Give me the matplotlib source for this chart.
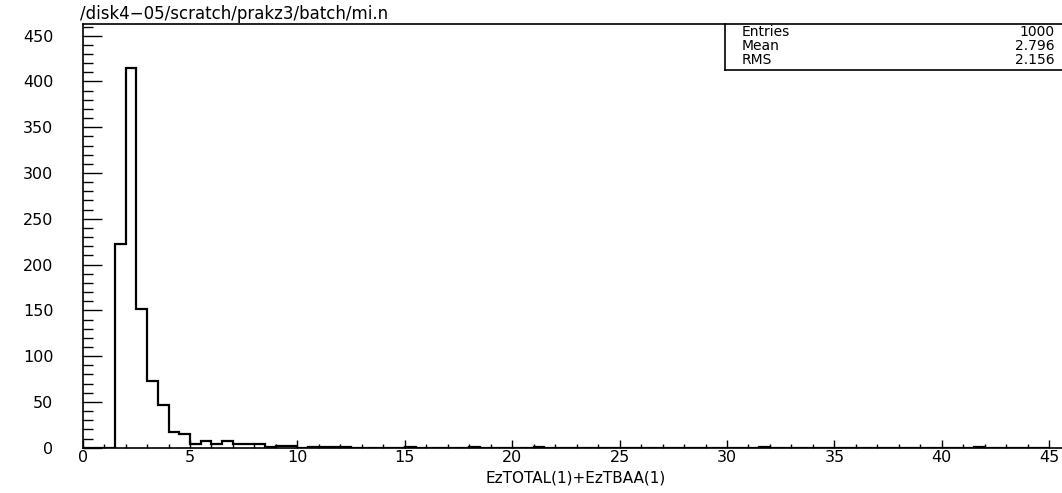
import matplotlib.pyplot as plt
import numpy as np
from matplotlib.ticker import MultipleLocator

# histogram of EzTOTAL(1)+EzTBAA(1), 90 bins of 0.5 from 0 to 45
edges = np.arange(0, 45.5, 0.5)
counts = np.zeros(90)
# (bin low edge, entries) for the non-empty bins
filled = [(1.5, 223), (2.0, 415), (2.5, 152), (3.0, 73), (3.5, 47),
          (4.0, 17), (4.5, 15), (5.0, 4), (5.5, 7), (6.0, 4), (6.5, 7),
          (7.0, 4), (7.5, 4), (8.0, 4), (8.5, 1), (9.0, 2), (9.5, 2),
          (10.5, 1), (11.0, 1), (11.5, 1), (12.0, 1), (15.0, 1),
          (18.0, 1), (21.0, 1), (31.5, 1), (41.5, 1)]
for lo, n in filled:
    counts[int(round(lo / 0.5))] = n

stat_names = ['Entries', 'Mean', 'RMS']
stat_values = ['1000', '2.796', '2.156']
title = '/disk4\u221205/scratch/prakz3/batch/mi.n'
xlabel = 'EzTOTAL(1)+EzTBAA(1)'

W, H = 1062, 493
fig = plt.figure(figsize=(W / 100, H / 100), dpi=100)
left, right, top, bottom = 82.6, 1062, 24, 447.7
ax = fig.add_axes([left / W, (H - bottom) / H, (right - left) / W, (bottom - top) / H])

ax.stairs(counts, edges, color='black', lw=1.6, baseline=0)

ax.set_xlim(0, (right - left) / 21.48)
ax.set_ylim(0, (bottom - top) / 0.9156)
ax.spines['right'].set_visible(False)
for s in ['left', 'bottom', 'top']:
    ax.spines[s].set_linewidth(1.2)

ax.xaxis.set_major_locator(MultipleLocator(5))
ax.xaxis.set_minor_locator(MultipleLocator(1))
ax.yaxis.set_major_locator(MultipleLocator(50))
ax.yaxis.set_minor_locator(MultipleLocator(10))
ax.set_xticks(np.arange(0, 46, 5))
ax.tick_params(axis='x', which='major', direction='in', length=6, width=1, labelsize=11.5, pad=2)
ax.tick_params(axis='x', which='minor', direction='in', length=3, width=1)
ax.tick_params(axis='y', which='major', direction='in', length=14, width=1, labelsize=11.5, pad=21)
ax.tick_params(axis='y', which='minor', direction='in', length=7, width=1)

# axis title under the tick labels
fig.text(576 / W, (H - 478) / H, xlabel, fontsize=11, ha='center', va='center')

# path name over the frame
fig.text(80 / W, (H - top + 1) / H, title, fontsize=12, ha='left', va='bottom')

# statistics box in the upper right corner
bx0, by1 = 725, 70
box = fig.add_axes([bx0 / W, (H - by1) / H, (W - bx0) / W, (by1 - top) / H])
box.set_xticks([])
box.set_yticks([])
box.patch.set_alpha(0)
box.spines['right'].set_visible(False)
box.spines['top'].set_visible(False)
box.spines['left'].set_linewidth(1.2)
box.spines['bottom'].set_linewidth(1.2)
rows_y = [32, 46, 60]
for name, val, yy in zip(stat_names, stat_values, rows_y):
    fig.text(742 / W, (H - yy) / H, name, fontsize=10, ha='left', va='center')
    fig.text(1055 / W, (H - yy) / H, val, fontsize=10, ha='right', va='center')

fig.savefig('out.png', dpi=100)
